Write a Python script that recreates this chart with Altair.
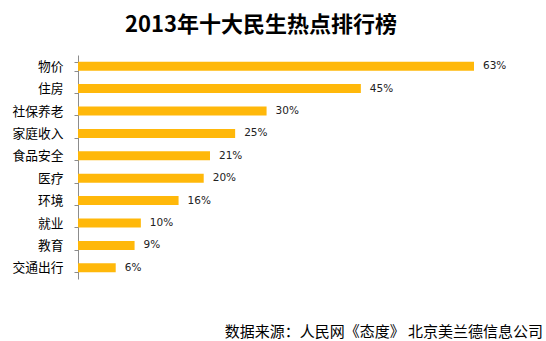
import altair as alt
import pandas as pd

categories = ["物价", "住房", "社保养老", "家庭收入", "食品安全", "医疗", "环境", "就业", "教育", "交通出行"]
values = [63, 45, 30, 25, 21, 20, 16, 10, 9, 6]
labels = ["63%", "45%", "30%", "25%", "21%", "20%", "16%", "10%", "9%", "6%"]
title_text = "2013年十大民生热点排行榜"
source_text = "数据来源：人民网《态度》 北京美兰德信息公司"

df = pd.DataFrame({"cat": categories, "val": values, "lab": labels})

CJK = "Noto Sans CJK SC"

base = alt.Chart(df).encode(
    y=alt.Y("cat:N", sort=categories, title=None,
            scale=alt.Scale(paddingInner=0.6, paddingOuter=0.3),
            axis=alt.Axis(tickBand="extent", tickSize=4, tickColor="#8c8c8c",
                          domainColor="#8c8c8c", labelFont=CJK, labelFontSize=12.75,
                          labelColor="#000000", labelPadding=11)),
    x=alt.X("val:Q", title=None, scale=alt.Scale(domain=[0, 70]), axis=None),
)

bars = base.mark_bar(color="#FFB80A", size=9)
text = base.mark_text(align="left", dx=9, font="DejaVu Sans", fontSize=10.5, color="#222222").encode(text="lab:N")

src = alt.Chart(pd.DataFrame({"t": [source_text]})).mark_text(
    align="right", baseline="middle", font=CJK, fontSize=15, color="#000000"
).encode(x=alt.value(465), y=alt.value(277), text="t:N")

chart = alt.layer(bars, text, src).properties(
    width=440, height=224,
    title=alt.TitleParams(title_text, font=CJK, fontSize=22, fontWeight="bold",
                          color="#000000", anchor="middle", dx=-37, offset=12),
    autosize=alt.AutoSizeParams(type="none"),
    padding={"left": 78, "top": 55, "right": 28, "bottom": 62},
).configure_view(stroke=None)

chart.save("out.html", embed_options={"renderer": "svg", "actions": False})
